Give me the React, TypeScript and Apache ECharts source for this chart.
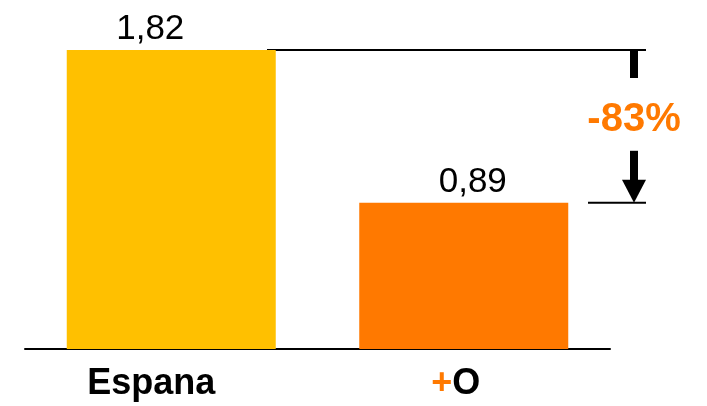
import React, { useEffect, useRef } from 'react';
import * as echarts from 'echarts';

// Chart data
const categories = ['Espana', '+O'];
const values = [1.82, 0.89];
const barColors = ['#FFC000', '#FF7900'];
const valueLabelOffsets = [[-21, 0], [9, 0]];
const changeLabel = '-83%';

const ORANGE = '#FF7900';
const FONT = '"Liberation Sans", Arial, sans-serif';

export default function App() {
  const ref = useRef<HTMLDivElement>(null);

  useEffect(() => {
    const chart = echarts.init(ref.current!, null, { renderer: 'svg' });

    const option = {
      animation: false,
      grid: { left: 25, right: 97, top: 50, bottom: 57, containLabel: false },
      xAxis: {
        type: 'category',
        data: categories,
        axisLine: { show: true, lineStyle: { color: '#000', width: 2 } },
        axisTick: { show: false },
        axisLabel: {
          margin: 14,
          formatter: (v: string) => (v === '+O' ? '{p|+}{o|O}' : '{e|' + v + '}'),
          rich: {
            e: { fontFamily: FONT, fontWeight: 'bold', fontSize: 36, color: '#000', padding: [0, 40, 0, 0] },
            p: { fontFamily: FONT, fontWeight: 'bold', fontSize: 36, color: ORANGE },
            o: { fontFamily: FONT, fontWeight: 'bold', fontSize: 36, color: '#000', padding: [0, 16, 0, 0] },
          },
        },
      },
      yAxis: { type: 'value', min: 0, max: values[0], show: false, splitLine: { show: false } },
      series: [
        {
          type: 'bar',
          barWidth: 209,
          data: values.map((v, i) => ({
            value: v,
            itemStyle: { color: barColors[i] },
            label: { offset: valueLabelOffsets[i] },
          })),
          label: {
            show: true,
            position: 'top',
            distance: 6,
            fontFamily: FONT,
            fontSize: 35,
            color: '#000',
            formatter: (p: any) => p.value.toFixed(2).replace('.', ','),
          },
        },
      ],
    };
    chart.setOption(option);

    // Reference lines and the change arrow, placed from the bar values
    const yHigh = chart.convertToPixel({ gridIndex: 0 }, [0, values[0]])[1];
    const yLow = chart.convertToPixel({ gridIndex: 0 }, [1, values[1]])[1];
    const ax = 634;

    chart.setOption({
      graphic: [
        { type: 'line', shape: { x1: 267, y1: yHigh, x2: 646, y2: yHigh }, style: { stroke: '#000', lineWidth: 2 } },
        { type: 'line', shape: { x1: 588, y1: yLow, x2: 646, y2: yLow }, style: { stroke: '#000', lineWidth: 2 } },
        { type: 'rect', shape: { x: ax - 4, y: yHigh, width: 8, height: 28 }, style: { fill: '#000' } },
        { type: 'rect', shape: { x: ax - 4, y: yLow - 52, width: 8, height: 30 }, style: { fill: '#000' } },
        {
          type: 'polygon',
          shape: { points: [[ax - 12, yLow - 23], [ax + 12, yLow - 23], [ax, yLow]] },
          style: { fill: '#000' },
        },
        {
          type: 'text',
          x: ax,
          y: (yHigh + yLow) / 2 - 9,
          style: {
            text: changeLabel,
            fill: ORANGE,
            font: 'bold 40px ' + FONT,
            align: 'center',
            verticalAlign: 'middle',
          },
        },
      ],
    });

    return () => chart.dispose();
  }, []);

  return <div ref={ref} style={{ position: 'fixed', left: 0, top: 0, width: 707, height: 406 }} />;
}
